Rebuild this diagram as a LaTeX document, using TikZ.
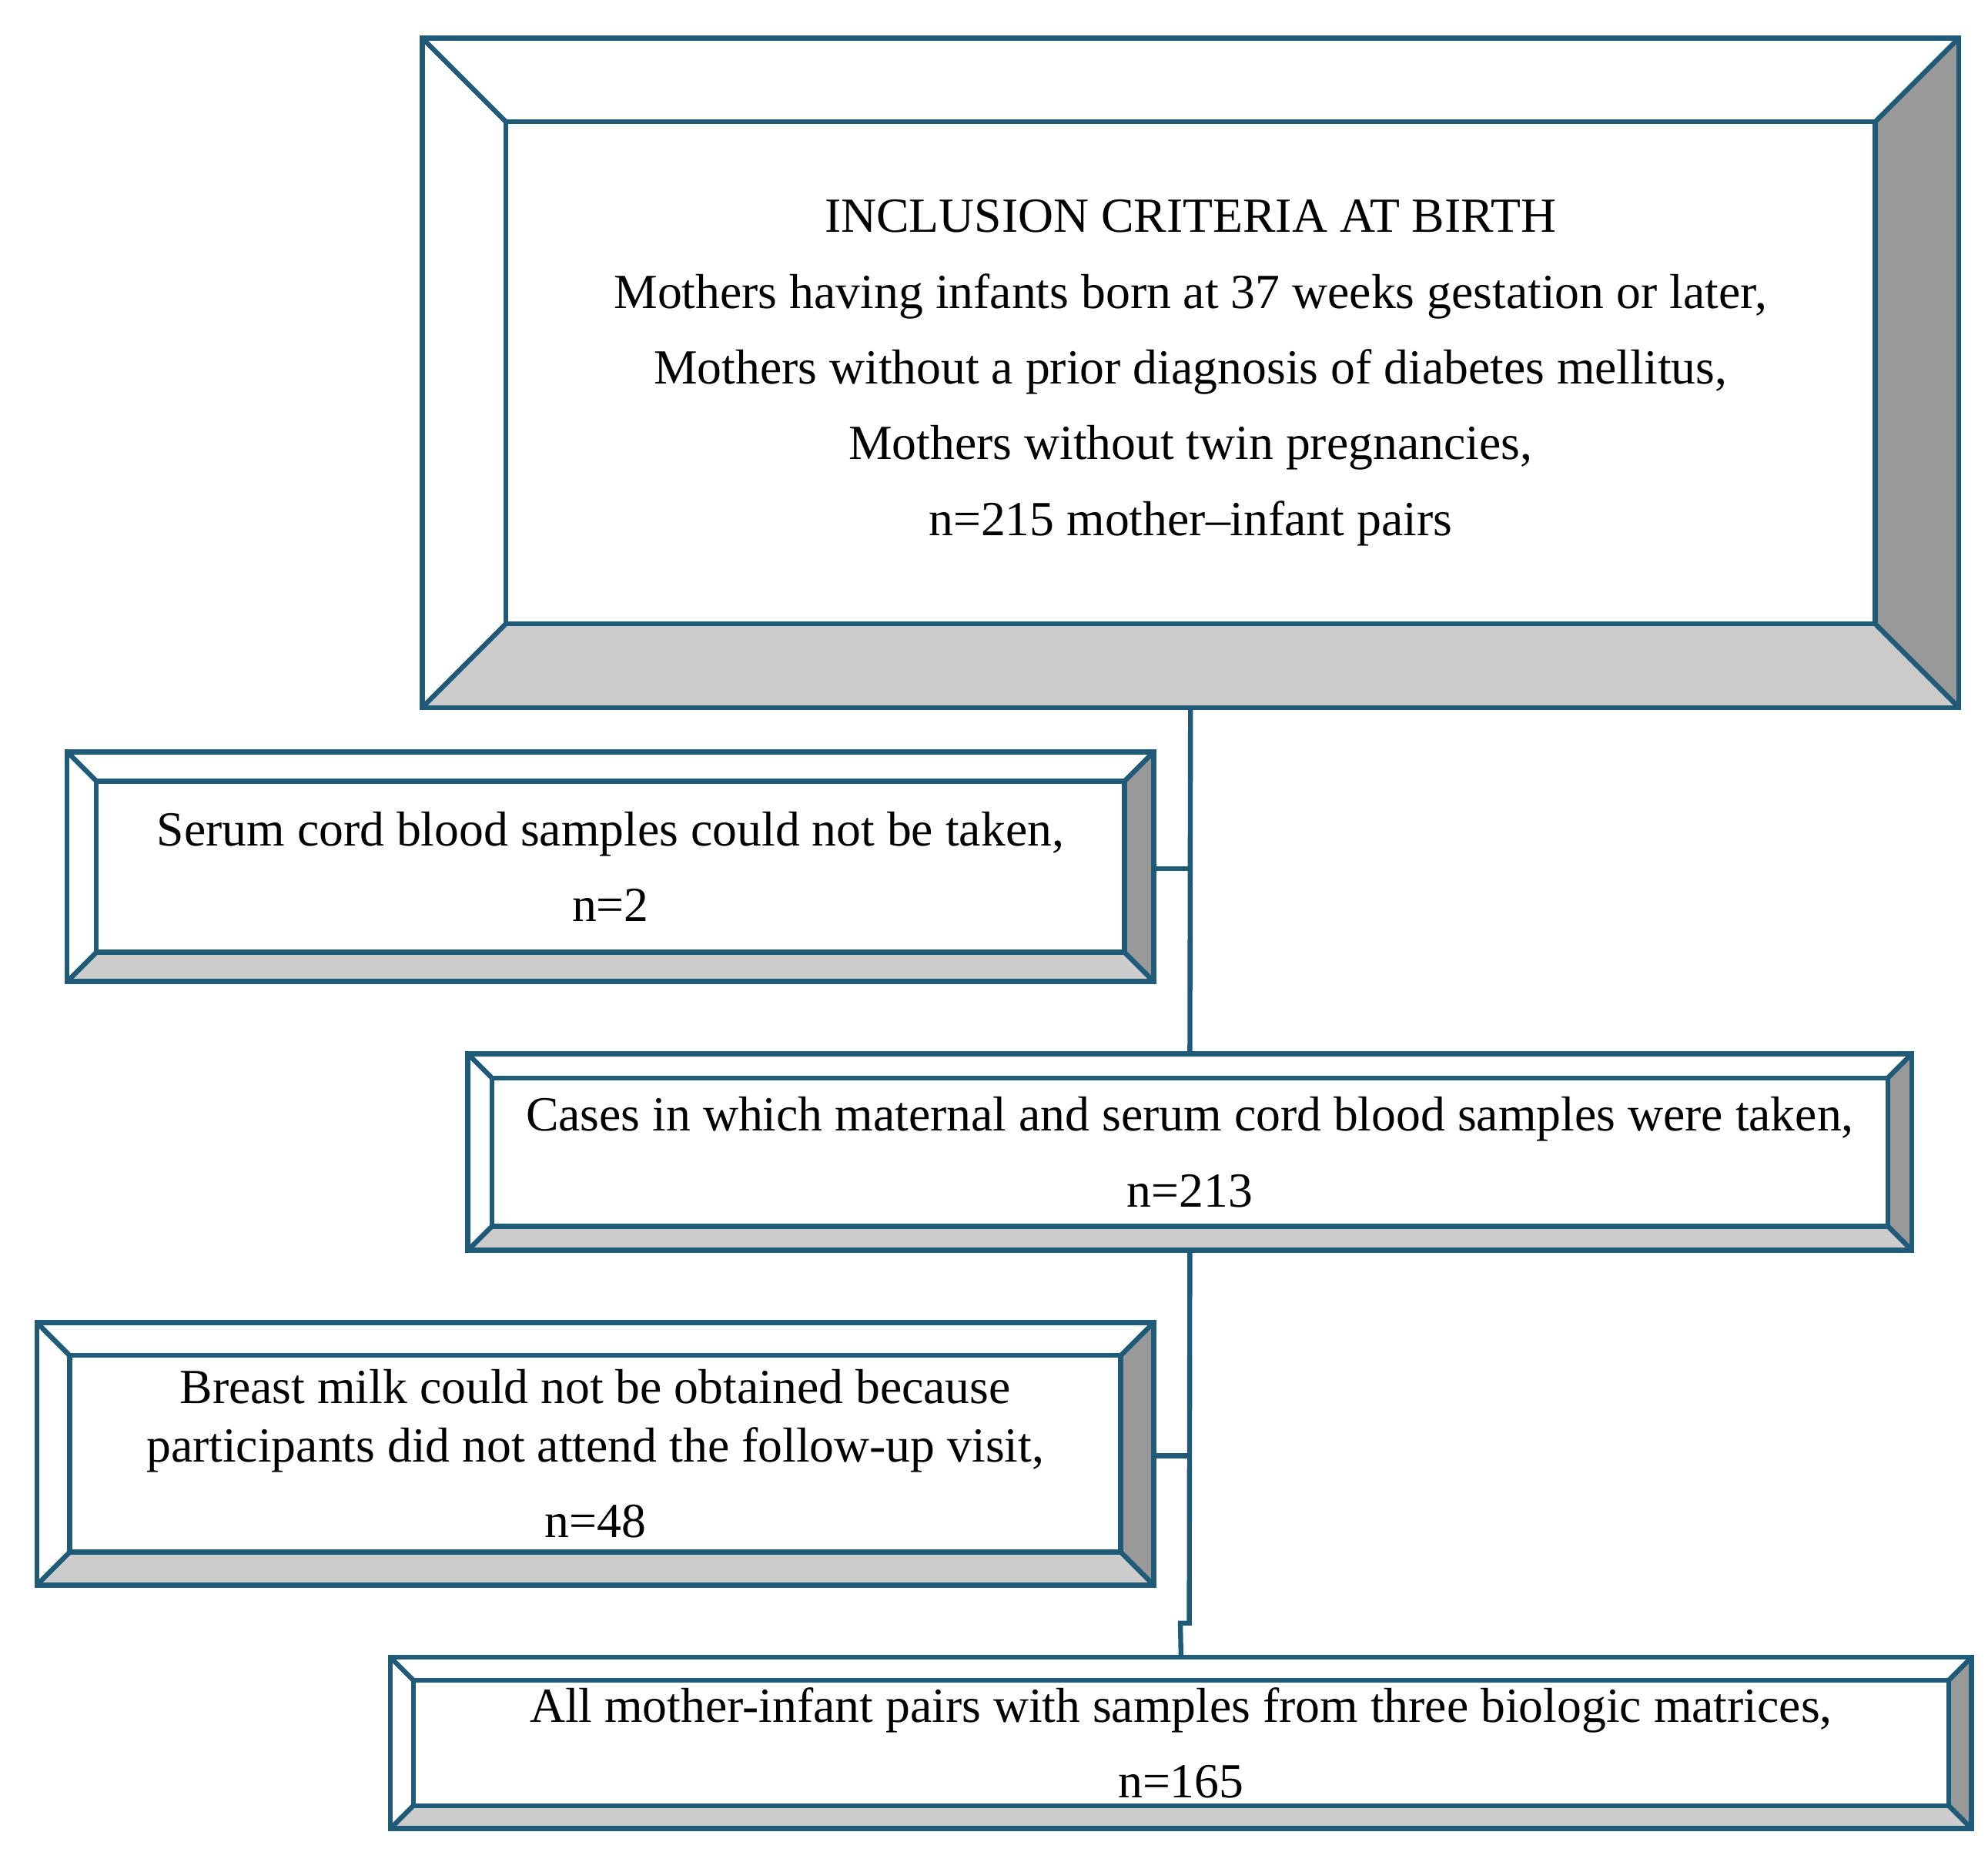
\documentclass[tikz,border=0pt]{standalone}
\usepackage{fontspec}
\setmainfont{Liberation Serif}
\definecolor{frame}{HTML}{1F5A78}
\definecolor{shadeR}{HTML}{999999}
\definecolor{shadeB}{HTML}{CCCCCC}
\tikzset{
  frameline/.style={draw=frame,line width=1.1pt,line join=miter},
  boxtext/.style={align=center,font=\fontsize{11}{17}\selectfont,inner sep=0pt},
  link/.style={draw=frame,line width=1.1pt}
}
% bevelled box: name, x1, y1, x2, y2, depth, text
\newcommand\flowbox[7]{%
  \fill[shadeB] (#2,#5) -- (#4,#5) -- (#4-#6,#5-#6) -- (#2+#6,#5-#6) -- cycle;
  \fill[shadeR] (#4,#3) -- (#4,#5) -- (#4-#6,#5-#6) -- (#4-#6,#3+#6) -- cycle;
  \draw[frameline] (#2,#3) rectangle (#4,#5);
  \draw[frameline] (#2+#6,#3+#6) rectangle (#4-#6,#5-#6);
  \draw[frameline] (#2,#3) -- (#2+#6,#3+#6) (#4,#3) -- (#4-#6,#3+#6)
                   (#2,#5) -- (#2+#6,#5-#6) (#4,#5) -- (#4-#6,#5-#6);
  \node[minimum width={(#4-#2)*0.01cm},minimum height={(#5-#3)*0.01cm},inner sep=0pt]
       (#1) at ({(#2+#4)/2},{(#3+#5)/2}) {};
  \node[boxtext] (#1-text) at ({(#2+#4)/2},{(#3+#5)/2}) {#7};
}
\begin{document}
\begin{tikzpicture}[x=0.01cm,y=-0.01cm]
  \useasboundingbox (0,0) rectangle (1568,1460);
  \flowbox{incl}{333}{30}{1545}{558}{66}{INCLUSION CRITERIA AT BIRTH\\
    Mothers having infants born at 37 weeks gestation or later,\\
    Mothers without a prior diagnosis of diabetes mellitus,\\
    Mothers without twin pregnancies,\\
    n=215 mother--infant pairs}
  \flowbox{nocord}{53}{593}{910}{774}{23}{Serum cord blood samples could not be taken,\\ n=2}
  \flowbox{cases}{369}{831}{1508}{986}{19}{Cases in which maternal and serum cord blood samples were taken,\\ n=213}
  \flowbox{nomilk}{29}{1043}{910}{1250}{26}{Breast milk could not be obtained because\\[-4pt]
    participants did not attend the follow-up visit,\\ n=48}
  \flowbox{all}{308}{1307}{1555}{1442}{18}{All mother-infant pairs with samples from three biologic matrices,\\ n=165}

  \coordinate (j1) at (938,685);
  \coordinate (j2) at (938,1148);
  \coordinate (bend) at (938,1280);
  \draw[link] (incl.south) -- (cases.north);
  \draw[link] (nocord.east |- j1) -- (j1);
  \draw[link] (cases.south) -- (bend) -- ++(-7,0) -- (all.north);
  \draw[link] (nomilk.east |- j2) -- (j2);
\end{tikzpicture}
\end{document}
